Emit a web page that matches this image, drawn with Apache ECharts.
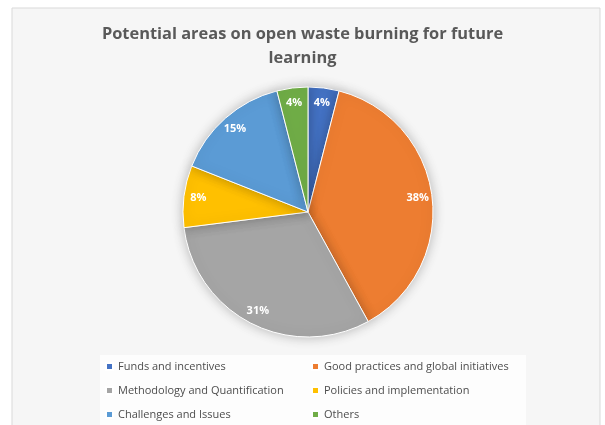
<!DOCTYPE html>
<html>
<head>
<meta charset="utf-8">
<script src="https://cdn.jsdelivr.net/npm/echarts@6/dist/echarts.min.js"></script>
<style>
  html, body { margin: 0; padding: 0; background: #fff; }
  #chart { width: 605px; height: 425px; }
</style>
</head>
<body>
<div id="chart"></div>
<script>
// categories and shares (%)
var categories = [
  'Funds and incentives',
  'Good practices and global initiatives',
  'Methodology and Quantification',
  'Policies and implementation',
  'Challenges and Issues',
  'Others'
];
var shares = [4, 38, 31, 8, 15, 4];
var colors = ['#4472C4', '#ED7D31', '#A5A5A5', '#FFC000', '#5B9BD5', '#70AD47'];

var leftLegend = [categories[0], categories[2], categories[4]];
var rightLegend = [categories[1], categories[3], categories[5]];

var pieData = categories.map(function (name, i) {
  return { name: name, value: shares[i] };
});

var chartDom = document.getElementById('chart');
var myChart = echarts.init(chartDom);
var option;

var legendText = {
  fontFamily: 'Open Sans',
  fontSize: 11,
  color: '#4d4d4d'
};

option = {
  color: colors,
  animation: false,
  graphic: {
    elements: [
      {
        type: 'rect',
        shape: { x: 12, y: 8, width: 588, height: 425 },
        style: { fill: '#f6f6f6', stroke: '#d9d9d9', lineWidth: 1 },
        z: -10
      },
      {
        type: 'rect',
        shape: { x: 100, y: 355, width: 426, height: 80 },
        style: { fill: '#fdfdfd' },
        z: -9
      }
    ]
  },
  title: {
    text: 'Potential areas on open waste burning for future\nlearning',
    left: 'center',
    top: 17,
    textStyle: {
      fontFamily: 'Open Sans',
      fontSize: 16.4,
      fontWeight: 'bold',
      color: '#595959',
      lineHeight: 24
    }
  },
  legend: [
    {
      data: leftLegend,
      orient: 'vertical',
      left: 105,
      top: 361,
      padding: 0,
      icon: 'rect',
      itemWidth: 7,
      itemHeight: 7,
      itemGap: 13,
      textStyle: legendText
    },
    {
      data: rightLegend,
      orient: 'vertical',
      left: 311,
      top: 361,
      padding: 0,
      icon: 'rect',
      itemWidth: 7,
      itemHeight: 7,
      itemGap: 13,
      textStyle: legendText
    }
  ],
  series: [
    {
      type: 'pie',
      center: [308, 212],
      radius: 125,
      startAngle: 90,
      clockwise: true,
      data: pieData,
      label: { show: false },
      labelLine: { show: false },
      itemStyle: {
        borderColor: '#ffffff',
        borderWidth: 1,
        shadowBlur: 12,
        shadowColor: 'rgba(0,0,0,0.25)'
      },
      emphasis: { disabled: true }
    },
    {
      // transparent ring used only to place the labels near the rim
      type: 'pie',
      center: [308, 212],
      radius: [90, 125],
      startAngle: 90,
      clockwise: true,
      data: pieData,
      silent: true,
      legendHoverLink: false,
      itemStyle: { color: 'rgba(0,0,0,0)', borderWidth: 0 },
      label: {
        show: true,
        position: 'inside',
        formatter: '{d}%',
        fontFamily: 'Open Sans',
        fontSize: 11,
        fontWeight: 'bold',
        color: '#ffffff'
      },
      labelLine: { show: false },
      emphasis: { disabled: true }
    }
  ]
};

option && myChart.setOption(option);
</script>
</body>
</html>
